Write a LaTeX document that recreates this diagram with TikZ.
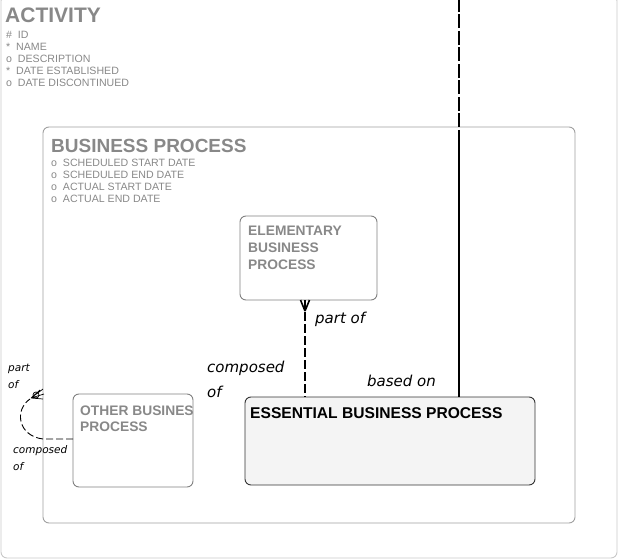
\documentclass[tikz,border=0pt]{standalone}
\usepackage{fontspec}
\setmainfont{Liberation Sans}
\newfontfamily\labfont{DejaVu Sans}
\definecolor{txtgray}{RGB}{136,136,136}
\definecolor{outergray}{RGB}{200,200,200}
\definecolor{bpgray}{RGB}{160,160,160}
\definecolor{elgray}{RGB}{128,128,128}
\definecolor{essfill}{RGB}{244,244,244}
\begin{document}
\begin{tikzpicture}[x=1pt,y=-1pt,
  ent/.style={draw, rounded corners=6pt, line width=0.9pt, anchor=north west, inner sep=0pt, outer sep=0pt},
  bigtitle/.style={anchor=base west, inner sep=0pt, text=txtgray, font=\fontsize{21}{23}\selectfont\bfseries},
  midtitle/.style={anchor=base west, inner sep=0pt, text=txtgray, font=\fontsize{19}{21}\selectfont\bfseries},
  boxtitle/.style={anchor=base west, inner sep=0pt, text=txtgray, font=\fontsize{13.8}{15}\selectfont\bfseries},
  attr/.style={anchor=base west, inner sep=0pt, text=txtgray, font=\fontsize{10.6}{12}\selectfont},
  rlabel/.style={anchor=base west, inner sep=0pt, font=\labfont\itshape\fontsize{15}{17}\selectfont},
  slabel/.style={anchor=base west, inner sep=0pt, font=\labfont\itshape\fontsize{10.5}{12}\selectfont},
  rel/.style={line width=2.5pt},
  foot/.style={line width=1.6pt},
]
\useasboundingbox (0,0) rectangle (618,559);

% boxes
\node[ent, draw=outergray, minimum width=616pt, minimum height=563pt] (act) at (1,-5) {};
\node[ent, draw=bpgray, minimum width=532pt, minimum height=396pt] (bp) at (43,127) {};
\node[ent, draw=elgray, minimum width=137pt, minimum height=84pt] (elem) at (240,216) {};
\node[ent, draw=elgray, minimum width=120pt, minimum height=93pt] (other) at (73,394) {};
\node[ent, draw=black!80, fill=essfill, minimum width=290pt, minimum height=88pt] (ess) at (245,397) {};

% ACTIVITY texts
\node[bigtitle] (actT) at (5,23) {ACTIVITY};
\node[attr] (a1) at (6,38.7) {\#\ \ ID};
\node[attr] (a2) at (6,50.7) {*\ \ NAME};
\node[attr] (a3) at (6,62.7) {o\ \ DESCRIPTION};
\node[attr] (a4) at (6,74.7) {*\ \ DATE ESTABLISHED};
\node[attr] (a5) at (6,86.7) {o\ \ DATE DISCONTINUED};

% BUSINESS PROCESS texts
\node[midtitle] (bpT) at (51,153) {BUSINESS PROCESS};
\node[attr] (b1) at (51,166.7) {o\ \ SCHEDULED START DATE};
\node[attr] (b2) at (51,178.7) {o\ \ SCHEDULED END DATE};
\node[attr] (b3) at (51,190.7) {o\ \ ACTUAL START DATE};
\node[attr] (b4) at (51,202.7) {o\ \ ACTUAL END DATE};

% ELEMENTARY
\node[boxtitle] (e1) at (248,235) {ELEMENTARY};
\node[boxtitle] (e2) at (248,252) {BUSINESS};
\node[boxtitle] (e3) at (248,269) {PROCESS};

% OTHER (clipped to its box)
\begin{scope}
\clip (73,394) rectangle (192.5,487);
\node[boxtitle] (o1) at (80,415) {OTHER BUSINESS};
\node[boxtitle] (o2) at (80,431) {PROCESS};
\end{scope}

% ESSENTIAL
\node[anchor=base west, inner sep=0pt, font=\fontsize{15.6}{17}\selectfont\bfseries] (essT) at (250,418) {ESSENTIAL BUSINESS PROCESS};

% based on: vertical line from top
\coordinate (vtop) at (459,-2);
\coordinate (vmid) at (459,140);
\draw[rel, dash pattern=on 14pt off 2.5pt] (vtop) -- (vmid);
\draw[rel] (vmid) -- (vmid |- ess.north);
\node[rlabel] (lbased) at (367,386) {based on};

% part of / composed of between elementary and essential
\coordinate (ctop) at (305,300);
\coordinate (cbot) at (305,397);
\draw[rel, dash pattern=on 9pt off 3pt] (ctop) -- (cbot);
\coordinate (cf) at (305,311);
\draw[foot] (cf) -- (300.5,300);
\draw[foot] (cf) -- (305,300);
\draw[foot] (cf) -- (309.5,300);
\node[rlabel] (lpart) at (315,323) {part of};
\node[rlabel] (lcomp1) at (207,372) {composed};
\node[rlabel] (lcomp2) at (207,397) {of};

% recursive relationship on OTHER BUSINESS PROCESS
\coordinate (sa) at (73,439);
\coordinate (sb) at (43,439);
\coordinate (sc) at (30,399);
\draw[line width=0.9pt, dash pattern=on 7pt off 3pt] (sa) -- (sb) .. controls (18,436) and (14,410) .. (sc);
\draw[line width=0.7pt] (31,398) -- (43,389) (31,398) -- (44,394) (31,398) -- (43,399) (31,398) -- (40,390);
\draw[line width=0.7pt] (36,395) circle (3pt);
\node[slabel] (spart1) at (8,371) {part};
\node[slabel] (spart2) at (8,388) {of};
\node[slabel] (scomp1) at (13,453) {composed};
\node[slabel] (scomp2) at (13,470) {of};
\end{tikzpicture}
\end{document}
